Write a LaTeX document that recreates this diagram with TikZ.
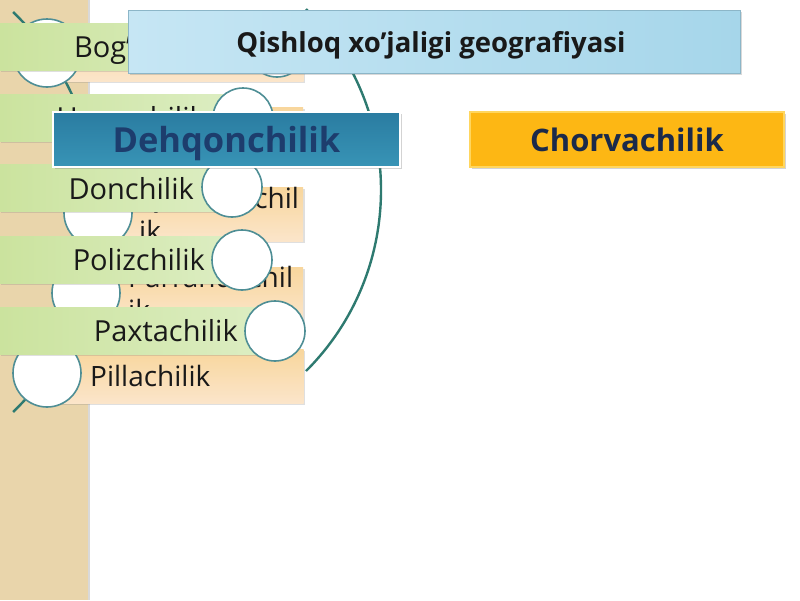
\documentclass[tikz,border=0pt]{standalone}
\usepackage{fontspec}
\setmainfont{Open Sans}
\usetikzlibrary{shadows}
\definecolor{tanbg}{HTML}{E9D5AB}
\definecolor{grnL}{HTML}{CBE39E}
\definecolor{grnR}{HTML}{DDEEC4}
\definecolor{orgT}{HTML}{F8D69C}
\definecolor{orgB}{HTML}{FBE5CA}
\definecolor{circ}{HTML}{4E8E95}
\definecolor{arcc}{HTML}{2E7A70}
\definecolor{qL}{HTML}{C6E6F4}
\definecolor{qR}{HTML}{A6D6EA}
\definecolor{qDraw}{HTML}{8CB6C8}
\definecolor{dTop}{HTML}{2A7CA1}
\definecolor{dBot}{HTML}{3894B6}
\definecolor{dText}{HTML}{1D3D6D}
\definecolor{chFill}{HTML}{FDB714}
\definecolor{chDraw}{HTML}{FFD65E}
\definecolor{chText}{HTML}{1B2A4A}

\begin{document}
\begin{tikzpicture}[x=1pt,y=-1pt]
      \tikzstyle{gbar}=[rectangle, minimum height=47pt, inner sep=0pt, left color=grnL, right color=grnR, drop shadow={opacity=0.25, shadow xshift=1pt, shadow yshift=-1.5pt}]
      \tikzstyle{obar}=[rectangle, minimum height=54pt, inner sep=0pt, top color=orgT, bottom color=orgB, drop shadow={opacity=0.25, shadow xshift=1.5pt, shadow yshift=-1.5pt}]
      \tikzstyle{bartext}=[inner sep=0pt, font=\fontsize{28}{33}\selectfont, text=black!90, align=left]
      \tikzstyle{gtext}=[bartext, font=\fontsize{29}{34}\selectfont]
      \tikzstyle{ocirc}=[circle, draw=circ, fill=white, line width=1.6pt, minimum size=68pt, inner sep=0pt]
      \tikzstyle{gcirc}=[ocirc, minimum size=60pt]
      \tikzstyle{arcline}=[draw=arcc, line width=2.4pt]
      \useasboundingbox (0,0) rectangle (800,600);
      % side panel
      \fill[tanbg, drop shadow={opacity=0.3, shadow xshift=1.5pt, shadow yshift=0pt}] (0,0) rectangle (88,600);
      % arcs
      \draw[arcline] (-180,212) ++(-46:278) arc[start angle=-46, end angle=46, radius=278];
      \draw[arcline] (125,190) ++(-45:256) arc[start angle=-45, end angle=45, radius=256];
      % chorvachilik list
      \node[obar, minimum width=256pt] (o1) at (175.5,54) {};
      \node[obar, minimum width=217pt] (o2) at (194.5,134) {};
      \node[obar, minimum width=205pt] (o3) at (200.5,214) {};
      \node[bartext, anchor=base west] (o3t) at (139,241) {Qoramolchil\\ik};
      \node[obar, minimum width=217pt] (o4) at (194.5,294) {};
      \node[bartext, anchor=base west] (o4t) at (128,320) {Parrandachil\\ik};
      \node[obar, minimum width=256pt] (o5) at (175.5,376) {};
      \node[bartext, anchor=base west] (o5t) at (90,386) {Pillachilik};
      \node[ocirc] (oc1) at (47,53) {};
      \node[ocirc] (oc2) at (86,133) {};
      \node[ocirc] (oc3) at (98,213) {};
      \node[ocirc] (oc4) at (86,293) {};
      \node[ocirc] (oc5) at (47,373) {};
      % dehqonchilik list
      \node[gbar, minimum width=277pt] (g1) at (138.5,47) {};
      \node[gtext, anchor=base east] (g1t) at (245,57) {Bog’dorchilik};
      \node[gbar, minimum width=243pt] (g2) at (121.5,118) {};
      \node[gtext, anchor=base east] (g2t) at (205,128) {Uzumchilik};
      \node[gbar, minimum width=232pt] (g3) at (116,188) {};
      \node[gtext, anchor=base east] (g3t) at (194,199) {Donchilik};
      \node[gbar, minimum width=242pt] (g4) at (121,260) {};
      \node[gtext, anchor=base east] (g4t) at (205,270) {Polizchilik};
      \node[gbar, minimum width=275pt] (g5) at (137.5,331) {};
      \node[gtext, anchor=base east] (g5t) at (238,341) {Paxtachilik};
      \node[gcirc] (gc1) at (277,47) {};
      \node[gcirc] (gc2) at (243,118) {};
      \node[gcirc] (gc3) at (232,187) {};
      \node[gcirc] (gc4) at (242,260) {};
      \node[gcirc] (gc5) at (275,331) {};
      % headings
      \node[rectangle, minimum width=612pt, minimum height=63pt, left color=qL, right color=qR, draw=qDraw, line width=0.8pt,
        drop shadow={opacity=0.3, shadow xshift=1.5pt, shadow yshift=-2pt}] (title) at (434,41.5) {};
      \node[font=\bfseries\fontsize{27.5}{30}\selectfont, text=black!90, anchor=base, inner sep=0pt] (titlet) at (431,52) {Qishloq xo’jaligi geografiyasi};
      \node[rectangle, minimum width=347pt, minimum height=55pt, top color=dTop, bottom color=dBot, draw=white, line width=2pt,
        drop shadow={opacity=0.35, shadow xshift=1.5pt, shadow yshift=-2pt}] (dehq) at (226.5,139.5) {};
      \node[font=\bfseries\fontsize{34.5}{38}\selectfont, text=dText, anchor=base, inner sep=0pt] (dehqt) at (226.5,152) {Dehqonchilik};
      \node[rectangle, minimum width=314pt, minimum height=55pt, fill=chFill, draw=chDraw, line width=2pt,
        drop shadow={opacity=0.35, shadow xshift=1.5pt, shadow yshift=-2pt}] (chorv) at (627,139.5) {};
      \node[font=\bfseries\fontsize{31}{36}\selectfont, text=chText, anchor=base, inner sep=0pt] (chorvt) at (627,151) {Chorvachilik};
\end{tikzpicture}
\end{document}
